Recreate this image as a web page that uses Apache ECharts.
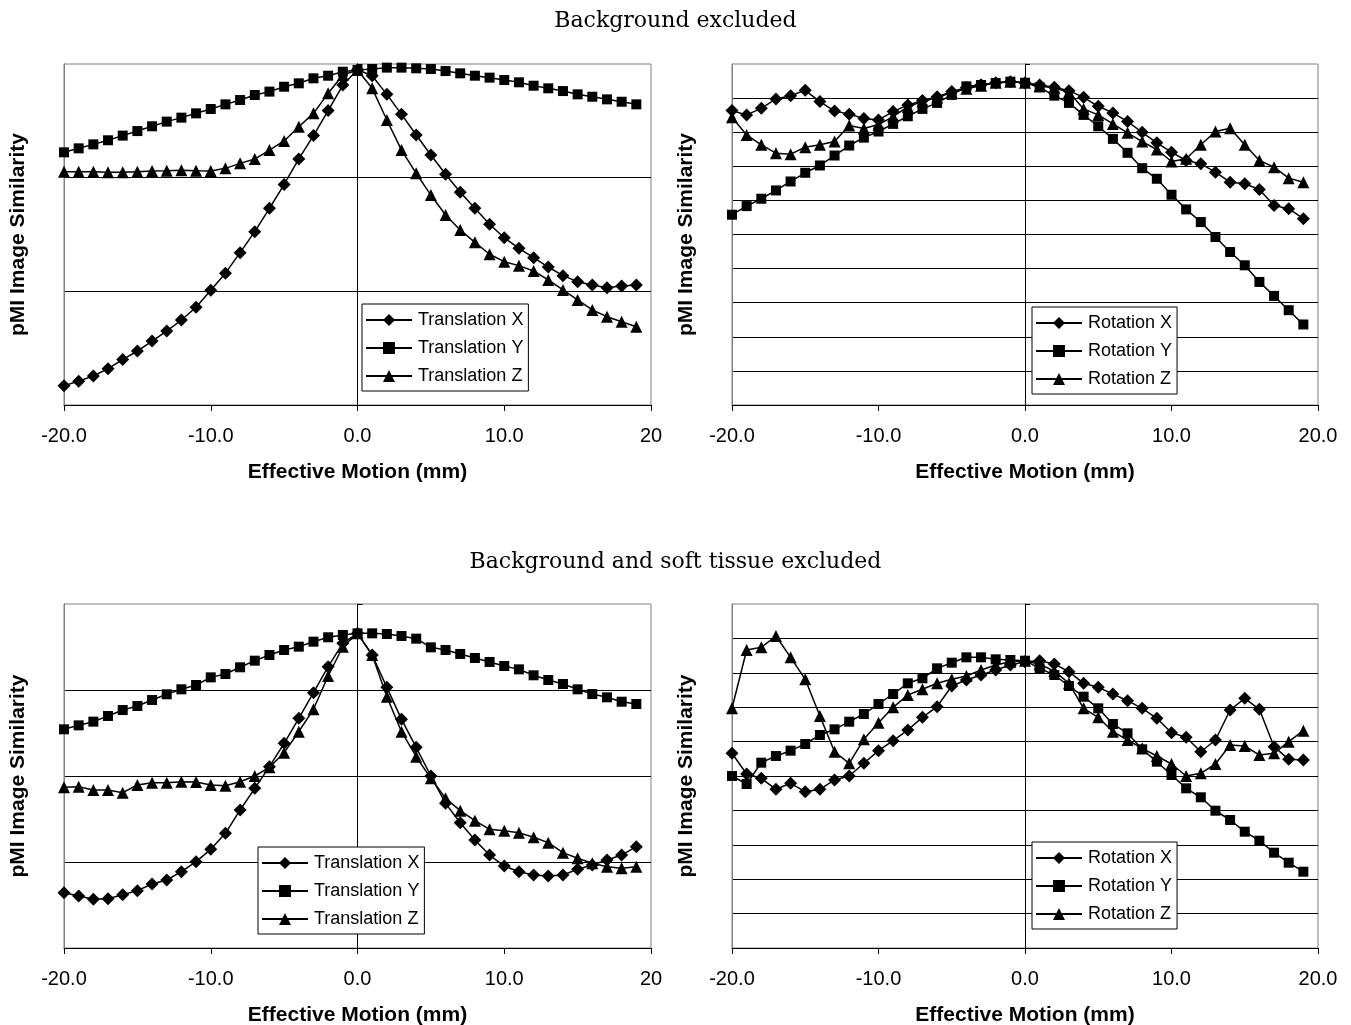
<!DOCTYPE html>
<html>
<head>
<meta charset="utf-8">
<script src="https://cdn.jsdelivr.net/npm/echarts@6/dist/echarts.min.js"></script>
<style>
  html, body { margin: 0; padding: 0; background: #fff; }
  #chart { width: 1351px; height: 1025px; }
</style>
</head>
<body>
<div id="chart"></div>
<script>
// ---- data ----
const titles = ['Background excluded', 'Background and soft tissue excluded'];
const xAxisTitle = 'Effective Motion (mm)';
const yAxisTitle = 'pMI Image Similarity';
const xTickLabelsLeft = ['-20.0', '-10.0', '0.0', '10.0', '20'];
const xTickLabelsRight = ['-20.0', '-10.0', '0.0', '10.0', '20.0'];
const translationNames = ['Translation X', 'Translation Y', 'Translation Z'];
const rotationNames = ['Rotation X', 'Rotation Y', 'Rotation Z'];

const motion = [-20, -19, -18, -17, -16, -15, -14, -13, -12, -11, -10, -9, -8, -7, -6, -5, -4, -3, -2, -1,
                0, 1, 2, 3, 4, 5, 6, 7, 8, 9, 10, 11, 12, 13, 14, 15, 16, 17, 18, 19];

// Top-left: background excluded, translations
const bgTransX = [0.17, 0.21, 0.255, 0.32, 0.40, 0.475, 0.563, 0.65, 0.748, 0.86, 1.01, 1.16, 1.34, 1.525, 1.73, 1.94, 2.165, 2.37, 2.59, 2.815,
                  2.95, 2.897, 2.733, 2.557, 2.375, 2.20, 2.03, 1.871, 1.73, 1.59, 1.472, 1.378, 1.296, 1.214, 1.138, 1.085, 1.056, 1.032, 1.047, 1.056];
const bgTransY = [2.223, 2.258, 2.293, 2.329, 2.37, 2.41, 2.452, 2.493, 2.528, 2.566, 2.604, 2.645, 2.683, 2.727, 2.757, 2.80, 2.83, 2.874, 2.897, 2.932,
                  2.947, 2.956, 2.968, 2.968, 2.962, 2.956, 2.938, 2.918, 2.897, 2.88, 2.859, 2.839, 2.809, 2.786, 2.762, 2.733, 2.712, 2.689, 2.668, 2.645];
const bgTransZ = [2.053, 2.053, 2.053, 2.047, 2.047, 2.053, 2.059, 2.061, 2.065, 2.061, 2.059, 2.082, 2.126, 2.164, 2.243, 2.323, 2.448, 2.566, 2.742, 2.903,
                  2.947, 2.786, 2.507, 2.243, 2.038, 1.847, 1.672, 1.54, 1.431, 1.326, 1.261, 1.226, 1.179, 1.10, 1.012, 0.924, 0.836, 0.777, 0.733, 0.689];

// Top-right: background excluded, rotations
const bgRotX = [8.633, 8.507, 8.70, 8.976, 9.072, 9.228, 8.897, 8.62, 8.53, 8.40, 8.36, 8.604, 8.80, 8.926, 9.043, 9.19, 9.31, 9.394, 9.453, 9.482,
                9.453, 9.385, 9.316, 9.219, 9.023, 8.76, 8.566, 8.311, 7.998, 7.688, 7.413, 7.17, 7.073, 6.828, 6.535, 6.488, 6.321, 5.853, 5.756, 5.464];
const bgRotY = [5.58, 5.833, 6.049, 6.292, 6.555, 6.81, 7.024, 7.316, 7.609, 7.84, 8.02, 8.244, 8.467, 8.683, 8.859, 9.093, 9.344, 9.385, 9.444, 9.482,
                9.45, 9.316, 9.072, 8.859, 8.507, 8.175, 7.804, 7.395, 6.945, 6.634, 6.166, 5.736, 5.365, 4.926, 4.486, 4.097, 3.609, 3.199, 2.78, 2.361];
const bgRotZ = [8.437, 7.92, 7.63, 7.384, 7.355, 7.56, 7.63, 7.726, 8.194, 8.106, 8.223, 8.458, 8.75, 8.897, 9.014, 9.16, 9.277, 9.365, 9.453, 9.482,
                9.453, 9.35, 9.30, 9.17, 8.683, 8.507, 8.244, 7.981, 7.726, 7.492, 7.141, 7.22, 7.63, 8.019, 8.116, 7.63, 7.17, 6.975, 6.653, 6.535];

// Bottom-left: background and soft tissue excluded, translations
const stTransX = [0.643, 0.605, 0.566, 0.574, 0.62, 0.667, 0.744, 0.791, 0.888, 1.004, 1.147, 1.333, 1.605, 1.857, 2.109, 2.38, 2.671, 2.969, 3.271, 3.543,
                  3.659, 3.407, 3.031, 2.659, 2.333, 2.0, 1.682, 1.457, 1.256, 1.081, 0.953, 0.887, 0.849, 0.837, 0.849, 0.915, 0.965, 1.023, 1.081, 1.178];
const stTransY = [2.543, 2.589, 2.632, 2.698, 2.767, 2.814, 2.884, 2.95, 3.008, 3.058, 3.147, 3.186, 3.264, 3.341, 3.407, 3.465, 3.504, 3.562, 3.613, 3.64,
                  3.659, 3.659, 3.651, 3.628, 3.597, 3.496, 3.465, 3.419, 3.372, 3.326, 3.279, 3.24, 3.171, 3.116, 3.07, 3.008, 2.953, 2.915, 2.864, 2.837];
const stTransZ = [1.868, 1.876, 1.837, 1.837, 1.806, 1.895, 1.922, 1.922, 1.934, 1.93, 1.895, 1.887, 1.934, 2.0, 2.101, 2.271, 2.515, 2.776, 3.163, 3.503,
                  3.659, 3.407, 2.922, 2.515, 2.224, 1.973, 1.741, 1.597, 1.48, 1.38, 1.364, 1.341, 1.287, 1.225, 1.109, 1.043, 0.985, 0.946, 0.926, 0.946];

// Bottom-right: background and soft tissue excluded, rotations
const stRotX = [5.66, 5.058, 4.933, 4.613, 4.788, 4.544, 4.613, 4.884, 5.0, 5.369, 5.736, 6.026, 6.337, 6.706, 7.015, 7.616, 7.791, 7.936, 8.081, 8.227,
                8.323, 8.352, 8.256, 8.032, 7.695, 7.578, 7.384, 7.189, 6.968, 6.677, 6.259, 6.125, 5.706, 6.047, 6.919, 7.259, 6.939, 5.852, 5.485, 5.465];
const stRotY = [5.0, 4.767, 5.387, 5.581, 5.736, 5.93, 6.192, 6.357, 6.579, 6.802, 7.093, 7.384, 7.694, 7.84, 8.13, 8.294, 8.45, 8.45, 8.392, 8.372,
                8.352, 8.13, 7.936, 7.616, 7.306, 6.968, 6.512, 6.241, 5.776, 5.416, 5.029, 4.642, 4.381, 3.991, 3.721, 3.381, 3.119, 2.771, 2.48, 2.218];
const stRotZ = [6.968, 8.663, 8.741, 9.07, 8.45, 7.811, 6.744, 5.706, 5.369, 6.067, 6.55, 6.997, 7.355, 7.52, 7.695, 7.811, 7.907, 8.081, 8.227, 8.323,
                8.352, 8.25, 8.05, 7.695, 6.968, 6.706, 6.288, 6.047, 5.805, 5.581, 5.349, 5.0, 5.078, 5.349, 5.901, 5.872, 5.61, 5.66, 5.997, 6.317];

const yMaxes = [3, 10, 4, 10];

// ---- layout / style ----
const SANS = 'Liberation Sans, Arial, Helvetica, sans-serif';
const SERIF = 'DejaVu Serif, serif';
const grids = [
  { left: 64, top: 64, width: 587, height: 341 },
  { left: 732, top: 64, width: 586, height: 341 },
  { left: 64, top: 604, width: 587, height: 344 },
  { left: 732, top: 604, width: 586, height: 344 }
];
const legendPos = [
  { left: 362, top: 304 },
  { left: 1032, top: 307 },
  { left: 258, top: 847 },
  { left: 1032, top: 842 }
];
const panelSeries = [
  { names: translationNames, data: [bgTransX, bgTransY, bgTransZ], labels: xTickLabelsLeft },
  { names: rotationNames, data: [bgRotX, bgRotY, bgRotZ], labels: xTickLabelsRight },
  { names: translationNames, data: [stTransX, stTransY, stTransZ], labels: xTickLabelsLeft },
  { names: rotationNames, data: [stRotX, stRotY, stRotZ], labels: xTickLabelsRight }
];
const symbols = ['diamond', 'rect', 'triangle'];
const symbolSizes = [13, 10, 12];

const option = {
  animation: false,
  backgroundColor: '#fff',
  title: [
    { text: titles[0], left: 'center', top: 10, padding: 0,
      textStyle: { fontFamily: SERIF, fontWeight: 'normal', fontSize: 22, color: '#000' } },
    { text: titles[1], left: 'center', top: 551, padding: 0,
      textStyle: { fontFamily: SERIF, fontWeight: 'normal', fontSize: 22, color: '#000' } }
  ],
  grid: grids.map(g => Object.assign({
    show: true, borderColor: '#808080', borderWidth: 1, backgroundColor: 'transparent',
    containLabel: false, outerBoundsMode: 'none'
  }, g)),
  xAxis: panelSeries.map((p, i) => ({
    type: 'value', gridIndex: i, min: -20, max: 20, interval: 10,
    axisLine: { show: true, onZero: false, lineStyle: { color: '#000', width: 1 } },
    axisTick: { show: true, length: 6, lineStyle: { color: '#000' } },
    axisLabel: { show: true, margin: 21, fontSize: 20, color: '#000', fontFamily: SANS,
      formatter: v => p.labels[Math.round((v + 20) / 10)] },
    splitLine: { show: false },
    name: xAxisTitle, nameLocation: 'middle', nameGap: 57,
    nameTextStyle: { fontFamily: SANS, fontWeight: 'bold', fontSize: 21, color: '#000' }
  })),
  yAxis: [],
  legend: panelSeries.map((p, i) => ({
    orient: 'vertical', left: legendPos[i].left, top: legendPos[i].top,
    data: p.names, itemWidth: 46, itemHeight: 15, itemGap: 10,
    padding: [7, 5, 6, 3], borderColor: '#000', borderWidth: 1, backgroundColor: '#fff',
    borderRadius: 0, selectedMode: false,
    textStyle: { fontFamily: SANS, fontSize: 18, color: '#000', padding: [0, 0, 0, 1] }
  })),
  series: []
};

panelSeries.forEach((p, i) => {
  // main value axis: left border, gridlines, axis title
  option.yAxis.push({
    type: 'value', gridIndex: i, min: 0, max: yMaxes[i], interval: 1, position: 'left',
    axisLine: { show: true, onZero: false, lineStyle: { color: '#808080', width: 1 } },
    axisTick: { show: false }, axisLabel: { show: false },
    splitLine: { show: true, showMinLine: false, showMaxLine: false, lineStyle: { color: '#000', width: 1 } },
    name: yAxisTitle, nameLocation: 'middle', nameGap: 35,
    nameTextStyle: { fontFamily: SANS, fontWeight: 'bold', fontSize: 21, color: '#000' }
  });
  // secondary axis drawn at x = 0
  option.yAxis.push({
    type: 'value', gridIndex: i, min: 0, max: yMaxes[i], interval: 1, position: 'right',
    axisLine: { show: true, onZero: true, lineStyle: { color: '#000', width: 1 } },
    axisTick: { show: true, length: 5, lineStyle: { color: '#000' } },
    axisLabel: { show: false }, splitLine: { show: false }
  });
  p.names.forEach((name, k) => {
    option.series.push({
      type: 'line', name: name, xAxisIndex: i, yAxisIndex: 2 * i,
      data: motion.map((m, j) => [m, p.data[k][j]]),
      symbol: symbols[k], symbolSize: symbolSizes[k],
      showSymbol: true, showAllSymbol: true,
      lineStyle: { color: '#000', width: 1.5 },
      itemStyle: { color: '#000', borderWidth: 0 },
      emphasis: { disabled: true }, z: 2 + k
    });
  });
});

const chart = echarts.init(document.getElementById('chart'), null, { renderer: 'canvas' });
chart.setOption(option);
</script>
</body>
</html>
